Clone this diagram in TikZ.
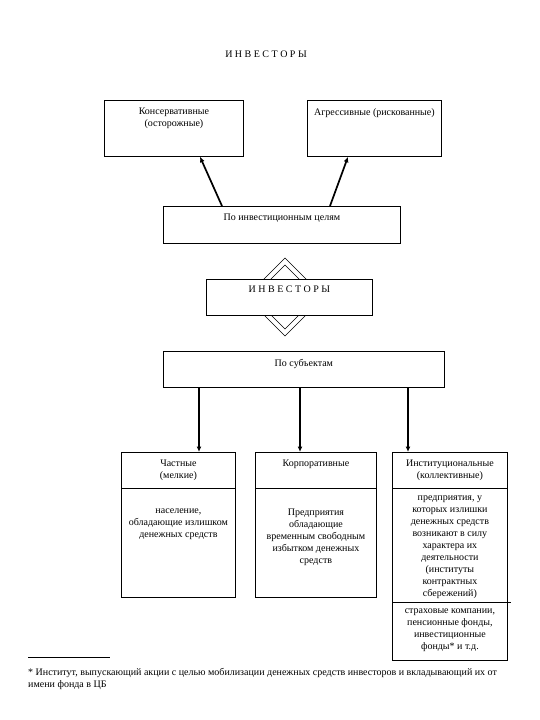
\documentclass[tikz,border=0pt]{standalone}
\usepackage{fontspec}
\setmainfont{Liberation Serif}
\usetikzlibrary{arrows.meta,calc}
\begin{document}
\begin{tikzpicture}[x=1pt,y=-1pt,
 box/.style={draw, line width=0.8pt, fill=white, anchor=north west, inner sep=0pt, minimum width=#1},
 txt/.style={font=\fontsize{10}{12}\selectfont, align=center, anchor=north, inner sep=0pt},
 arr/.style={line width=1.7pt, -{Latex[length=5.5pt,width=5pt]}},
 dia/.style={line width=0.5pt},
 sep/.style={line width=0.8pt},
]
\useasboundingbox (0,0) rectangle (540,720);

% title
\node[txt, anchor=center] (title) at (266,54) {И Н В Е С Т О Р Ы};

% top boxes
\node[box=139pt, minimum height=56pt] (kons) at (104,100) {};
\node[box=134pt, minimum height=56pt] (agr) at (307,100) {};
\node[txt] (konst) at ($(kons.north)+(0,8)$) {Консервативные\\(осторожные)};
\node[txt] (agrt) at ($(agr.north)+(0,8)$) {Агрессивные (рискованные)};

% by goals
\node[box=237pt, minimum height=37pt] (cel) at (163,206) {};
\node[txt] (celt) at ($(cel.north)+(0,8)$) {По инвестиционным целям};

\draw[arr] ($(cel.north west)+(59,0)$) -- ($(kons.south west)+(96,0)$);
\draw[arr] ($(cel.north west)+(167,0)$) -- ($(agr.south west)+(41,0)$);

% diamonds + central box
\coordinate (dc) at (285,297);
\draw[dia] ($(dc)+(0,-39)$) -- ($(dc)+(39,0)$) -- ($(dc)+(0,39)$) -- ($(dc)+(-39,0)$) -- cycle;
\draw[dia] ($(dc)+(0,-32)$) -- ($(dc)+(32,0)$) -- ($(dc)+(0,32)$) -- ($(dc)+(-32,0)$) -- cycle;
\node[box=166pt, minimum height=36pt] (inv) at (206,279) {};
\node[txt] (invt) at ($(inv.north)+(0,7)$) {И Н В Е С Т О Р Ы};

% by subjects
\node[box=281pt, minimum height=36pt] (subj) at (163,351) {};
\node[txt] (subjt) at ($(subj.north)+(0,8)$) {По субъектам};

% bottom boxes
\node[box=114pt, minimum height=145pt] (chast) at (121,452) {};
\node[box=121pt, minimum height=145pt] (korp) at (255,452) {};
\node[box=115pt, minimum height=208pt] (inst) at (392,452) {};

\draw[arr] ($(subj.south west)+(36,0)$) -- ($(chast.north west)+(78,0)$);
\draw[arr] ($(subj.south west)+(137,0)$) -- ($(korp.north west)+(45,0)$);
\draw[arr] ($(subj.south west)+(245,0)$) -- ($(inst.north west)+(16,0)$);

\draw[sep] ($(chast.north west)+(0,36)$) -- ($(chast.north east)+(0,36)$);
\draw[sep] ($(korp.north west)+(0,36)$) -- ($(korp.north east)+(0,36)$);
\draw[sep] ($(inst.north west)+(0,36)$) -- ($(inst.north east)+(0,36)$);
\draw[sep] ($(inst.north west)+(0,150)$) -- ($(inst.north east)+(3,150)$);

\node[txt] (chast1) at ($(chast.north)+(0,8)$) {Частные\\(мелкие)};
\node[txt] (chast2) at ($(chast.north)+(0,57)$) {население,\\обладающие излишком\\денежных средств};
\node[txt] (korp1) at ($(korp.north)+(0,8)$) {Корпоративные};
\node[txt] (korp2) at ($(korp.north)+(0,57)$) {Предприятия\\обладающие\\временным свободным\\избытком денежных\\средств};
\node[txt] (inst1) at ($(inst.north)+(0,8)$) {Институциональные\\(коллективные)};
\node[txt] (inst2) at ($(inst.north)+(0,44)$) {предприятия, у\\которых излишки\\денежных средств\\возникают в силу\\характера их\\деятельности\\(институты\\контрактных\\сбережений)};
\node[txt] (inst3) at ($(inst.north)+(0,157)$) {страховые компании,\\пенсионные фонды,\\инвестиционные\\фонды* и т.д.};

% footnote
\coordinate (fn) at (28,657);
\draw[line width=0.6pt] (fn) -- ($(fn)+(82,0)$);
\node[txt, anchor=north west, align=left] (fntext) at (28,668) {* Институт, выпускающий акции с целью мобилизации денежных средств инвесторов и вкладывающий их от\\имени фонда в ЦБ};
\end{tikzpicture}
\end{document}
